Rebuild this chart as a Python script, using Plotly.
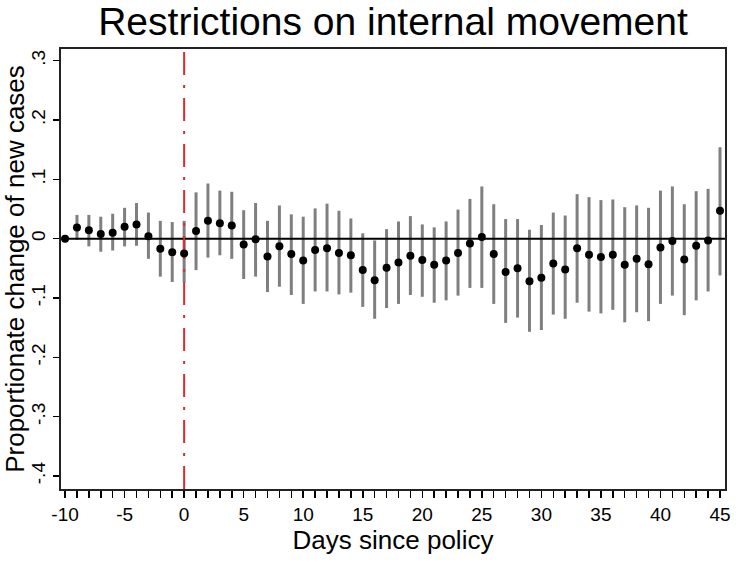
import plotly.graph_objects as go

days = list(range(-10, 46))
coef = [0.000, 0.019, 0.014, 0.008, 0.010, 0.020, 0.024, 0.004, -0.017, -0.023,
        -0.025, 0.013, 0.030, 0.026, 0.022, -0.010, -0.001, -0.030, -0.013, -0.026,
        -0.037, -0.019, -0.016, -0.024, -0.028, -0.053, -0.070, -0.049, -0.040, -0.029,
        -0.036, -0.044, -0.037, -0.024, -0.008, 0.003, -0.026, -0.056, -0.050, -0.072,
        -0.066, -0.042, -0.052, -0.016, -0.027, -0.031, -0.027, -0.044, -0.034, -0.043,
        -0.015, -0.004, -0.035, -0.012, -0.003, 0.047]
ci_hi = [None, 0.040, 0.040, 0.037, 0.042, 0.052, 0.060, 0.044, 0.030, 0.028,
         0.030, 0.078, 0.093, 0.081, 0.079, 0.048, 0.060, 0.030, 0.056, 0.041,
         0.037, 0.051, 0.059, 0.047, 0.034, 0.009, -0.003, 0.016, 0.029, 0.038,
         0.024, 0.019, 0.029, 0.049, 0.067, 0.088, 0.058, 0.033, 0.033, 0.015,
         0.023, 0.044, 0.039, 0.075, 0.070, 0.065, 0.066, 0.053, 0.056, 0.052,
         0.081, 0.088, 0.058, 0.080, 0.084, 0.154]
ci_lo = [None, -0.002, -0.013, -0.022, -0.020, -0.013, -0.012, -0.034, -0.064, -0.073,
         -0.074, -0.053, -0.032, -0.028, -0.034, -0.068, -0.064, -0.090, -0.081, -0.095,
         -0.110, -0.089, -0.089, -0.094, -0.091, -0.115, -0.135, -0.117, -0.110, -0.095,
         -0.098, -0.108, -0.104, -0.096, -0.083, -0.083, -0.110, -0.142, -0.133, -0.157,
         -0.154, -0.128, -0.135, -0.108, -0.123, -0.126, -0.120, -0.141, -0.124, -0.139,
         -0.110, -0.096, -0.129, -0.104, -0.089, -0.062]

x_ticks = list(range(-10, 46, 5))
x_labels = ["-10", "-5", "0", "5", "10", "15", "20", "25", "30", "35", "40", "45"]
y_ticks = [-0.4, -0.3, -0.2, -0.1, 0, 0.1, 0.2, 0.3]
y_labels = ["-.4", "-.3", "-.2", "-.1", "0", ".1", ".2", ".3"]
policy_day = 0

x_range = [-10.34, 45.42]
y_range = [-0.422, 0.3197]

FONT = "Liberation Sans, Arial, Helvetica, sans-serif"

seg_x, seg_y = [], []
for d, lo, hi in zip(days, ci_lo, ci_hi):
    if lo is None:
        continue
    seg_x += [d, d, None]
    seg_y += [lo, hi, None]

fig = go.Figure()
fig.add_trace(go.Scatter(x=seg_x, y=seg_y, mode="lines",
                         line=dict(color="#7f7f7f", width=3),
                         hoverinfo="skip", showlegend=False))
fig.add_trace(go.Scatter(x=x_range, y=[0, 0], mode="lines",
                         line=dict(color="black", width=2),
                         hoverinfo="skip", showlegend=False))
fig.add_trace(go.Scatter(x=[policy_day, policy_day], y=y_range, mode="lines",
                         line=dict(color="#e0282e", width=2, dash="23px,10px,3px,10px"),
                         hoverinfo="skip", showlegend=False))
fig.add_trace(go.Scatter(x=days, y=coef, mode="markers",
                         marker=dict(color="black", size=8),
                         showlegend=False))

fig.update_layout(
    width=748, height=567,
    paper_bgcolor="white", plot_bgcolor="white",
    margin=dict(l=61, r=23, t=49, b=78, autoexpand=False),
    font=dict(family=FONT, color="black"),
    title=dict(text="Restrictions on internal movement", x=0.5, xanchor="center",
               xref="paper",
               y=0.962, yanchor="middle", yref="container",
               font=dict(size=39, family=FONT, color="black")),
    xaxis=dict(range=x_range, tickvals=x_ticks, ticktext=x_labels,
               ticks="outside", ticklen=7, automargin=False,
               tickwidth=1.5, tickcolor="black",
               minor=dict(dtick=1, tick0=0, ticks="outside", ticklen=7,
                          tickwidth=1.5, tickcolor="black"),
               showgrid=False, zeroline=False,
               showline=True, linecolor="#222", linewidth=2, mirror=True,
               tickfont=dict(size=19),
               title=dict(text="Days since policy", font=dict(size=26), standoff=2)),
    yaxis=dict(range=y_range, tickvals=y_ticks, ticktext=y_labels, tickangle=-90,
               ticks="outside", ticklen=6, tickwidth=1.5, tickcolor="black",
               automargin=False,
               showgrid=False, zeroline=False,
               showline=True, linecolor="#222", linewidth=2, mirror=True,
               tickfont=dict(size=19),
               title=dict(text="Proportionate change of new cases", font=dict(size=26),
                          standoff=0)),
)

fig.write_html("out.html", config={"displayModeBar": False, "staticPlot": True})

# remove the browser's default page margin so the figure sits at the window's corner
with open("out.html", encoding="utf-8") as f:
    page = f.read()
page = page.replace("<head>", "<head><style>html,body{margin:0;padding:0;overflow:hidden;}</style>", 1)
with open("out.html", "w", encoding="utf-8") as f:
    f.write(page)
